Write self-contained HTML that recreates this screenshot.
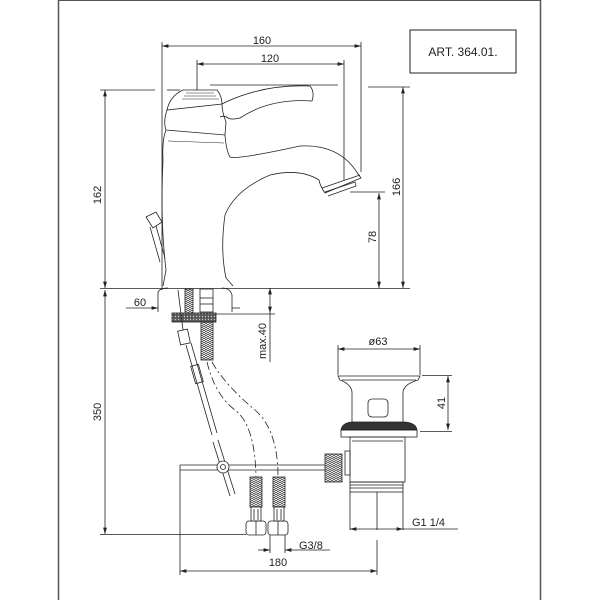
<!DOCTYPE html>
<html><head><meta charset="utf-8"><style>
html,body{margin:0;padding:0;background:#fff}
svg{display:block}
text{font-family:"Liberation Sans",sans-serif;font-size:11px;fill:#222}
</style></head><body>
<svg width="600" height="600" viewBox="0 0 600 600" xmlns="http://www.w3.org/2000/svg">
<defs>
<marker id="a" viewBox="0 0 10 6" refX="10" refY="3" markerWidth="8" markerHeight="5" orient="auto-start-reverse"><path d="M0,0 L10,3 L0,6 z" fill="#222"/></marker>
<pattern id="br" width="4" height="4" patternUnits="userSpaceOnUse"><path d="M0,0 L2,2 L4,0 M0,2 L2,4 L4,2" stroke="#333" stroke-width="0.7" fill="none"/></pattern>
<pattern id="ht" width="3" height="3" patternUnits="userSpaceOnUse"><rect width="3" height="3" fill="#555"/><circle cx="1.5" cy="1.5" r="0.7" fill="#ccc"/></pattern>
</defs>
<g stroke="#222" fill="none" stroke-width="1">
<!-- frame -->
<line x1="58.5" y1="0" x2="58.5" y2="600" stroke="#555" stroke-width="1.5"/>
<line x1="540.5" y1="0" x2="540.5" y2="600" stroke="#555" stroke-width="1.5"/>
<line x1="58" y1="0.5" x2="541" y2="0.5" stroke="#555"/>
<rect x="410" y="30" width="106" height="43"/>
</g>
<text x="463" y="56" text-anchor="middle" style="font-size:12px">ART.  364.01.</text>

<g stroke="#222" fill="none" stroke-width="0.8">
<!-- dims top -->
<line x1="162" y1="46" x2="361" y2="46" marker-start="url(#a)" marker-end="url(#a)"/>
<line x1="162" y1="42" x2="162" y2="290"/>
<line x1="361" y1="42" x2="361" y2="172"/>
<line x1="197" y1="64" x2="344" y2="64" marker-start="url(#a)" marker-end="url(#a)"/>
<line x1="197" y1="60" x2="197" y2="90"/>
<line x1="344" y1="60" x2="344" y2="180"/>
<line x1="105" y1="90" x2="105" y2="288" marker-start="url(#a)" marker-end="url(#a)"/>
<line x1="100" y1="90" x2="155" y2="90"/>
<line x1="167" y1="90" x2="180" y2="90"/>
<line x1="210" y1="85" x2="338" y2="85"/>
<line x1="403" y1="87" x2="403" y2="288" marker-start="url(#a)" marker-end="url(#a)"/>
<line x1="368" y1="87" x2="410" y2="87"/>
<line x1="379" y1="193" x2="379" y2="288" marker-start="url(#a)" marker-end="url(#a)"/>
<line x1="350" y1="192" x2="385" y2="192"/>
<line x1="100" y1="288.5" x2="410" y2="288.5"/>

<!-- faucet -->
<path d="M183,90 L217,90 Q222,96 222,104 L167,110 Q170,96 183,90 Z"/>
<path d="M186,93 L214,93 M184,96 L216,96 M182,99 L219,99" stroke-width="0.5"/>
<path d="M167,110 Q163,122 166,130 L225,135 L226,122 Q222,112 222,104"/>
<path d="M222,104 L226,102 Q265,84 310,86 Q315,92 312,101 Q270,98 240,118 Q231,120 228,118 Q224,115 220,117"/>
<path d="M225,135 Q226,150 230,157 Q236,160 300,146 Q340,144 358,174 L361,178 L325,193 Q320,186 319,180 Q300,168 270,175 Q235,190 225,215 Q220,250 226,278 L233,286"/>
<path d="M322,188 L360,175 M325,192 L355,182 L356,186 L328,196" stroke-width="0.7"/>
<path d="M166,130 Q162,140 163,160 Q160,220 166,270 L163,286"/>
<path d="M168,141 L224,143" stroke-width="0.6"/>
<!-- small lever -->
<path d="M146,217 L156,212 L162,222 L153,228 Z"/>
<path d="M150,227 L160,262 M156,226 L165,258"/>
<!-- base -->
<path d="M158,312 L158,292 Q160,288 168,288 M232,312 L232,295 Q230,288 222,288"/>
<line x1="126" y1="308" x2="158" y2="308" marker-end="url(#a)"/>
<line x1="232" y1="308" x2="240" y2="308"/>
<line x1="270" y1="288" x2="270" y2="313" marker-start="url(#a)" marker-end="url(#a)"/>
<line x1="216" y1="314" x2="275" y2="314"/>
<line x1="270" y1="313" x2="270" y2="362"/>
<rect x="172" y="313" width="44" height="9" fill="url(#ht)"/>
<rect x="185" y="289" width="8" height="24" fill="url(#br)"/>
<rect x="200" y="289" width="13" height="23"/>
<line x1="200" y1="298" x2="213" y2="298"/><line x1="200" y1="304" x2="213" y2="304"/>
<rect x="201" y="322" width="12" height="38" fill="url(#br)"/>
<!-- rod -->
<path d="M178,290 L183,330"/>
<rect x="179" y="330" width="10" height="14" transform="rotate(-12 184 337)"/>
<path d="M186,345 L212,435 M191,343 L217,433"/>
<rect x="193" y="365" width="8" height="18" transform="rotate(-16 197 374)"/>
<path d="M213,442 L230,496 M218,440 L235,494"/>
<line x1="180" y1="465" x2="325" y2="465"/>
<line x1="180" y1="470" x2="325" y2="470"/>
<line x1="180" y1="465" x2="180" y2="575"/>
<circle cx="223" cy="467" r="6" fill="#fff"/><circle cx="223" cy="467" r="2.5"/>
<!-- dashed hoses -->
<path d="M207,362 Q215,395 235,410 Q255,425 256,477" stroke-dasharray="8,3,2,3"/>
<path d="M212,362 Q225,385 255,410 Q278,430 278,477" stroke-dasharray="8,3,2,3"/>
<rect x="250" y="477" width="12" height="30" fill="url(#br)"/>
<rect x="273" y="477" width="12" height="30" fill="url(#br)"/>
<rect x="251" y="507" width="10" height="14"/><rect x="274" y="507" width="10" height="14"/>
<line x1="254" y1="509" x2="254" y2="520"/><line x1="258" y1="509" x2="258" y2="520"/>
<line x1="277" y1="509" x2="277" y2="520"/><line x1="281" y1="509" x2="281" y2="520"/>
<rect x="246" y="521" width="20" height="14" rx="3"/><rect x="268" y="521" width="20" height="14" rx="3"/>
<line x1="256" y1="521" x2="256" y2="535"/><line x1="278" y1="521" x2="278" y2="535"/>
<!-- 350 -->
<line x1="105" y1="290" x2="105" y2="534" marker-start="url(#a)" marker-end="url(#a)"/>
<line x1="100" y1="534.5" x2="246" y2="534.5"/>
<line x1="270" y1="535" x2="270" y2="553"/><line x1="285" y1="535" x2="285" y2="553"/>
<line x1="258" y1="550" x2="270" y2="550" marker-end="url(#a)"/>
<line x1="285" y1="550" x2="330" y2="550" marker-start="url(#a)"/>
<line x1="180" y1="571" x2="377" y2="571" marker-start="url(#a)" marker-end="url(#a)"/>
<line x1="377" y1="540" x2="377" y2="575"/>
<!-- drain -->
<line x1="338" y1="349" x2="420" y2="349" marker-start="url(#a)" marker-end="url(#a)"/>
<line x1="338" y1="345" x2="338" y2="375"/><line x1="420" y1="345" x2="420" y2="375"/>
<path d="M338,376 L420,376 L418,380 Q404,384 403,392 L403,424 L352,424 L352,392 Q351,384 340,380 Z"/>
<line x1="342" y1="380" x2="416" y2="380"/>
<rect x="368" y="399" width="20" height="18" rx="4"/>
<path d="M341,430 Q342,423 352,422 L405,422 Q416,423 417,430 Z" fill="#333"/>
<rect x="341" y="430" width="76" height="7"/>
<rect x="350" y="437" width="55" height="45"/>
<line x1="352" y1="441" x2="403" y2="441"/>
<rect x="345" y="451" width="5" height="24"/>
<rect x="325" y="454" width="17" height="28" fill="url(#br)"/>
<rect x="350" y="482" width="53" height="10"/>
<line x1="350" y1="485" x2="403" y2="485"/><line x1="350" y1="488" x2="403" y2="488"/>
<line x1="350" y1="492" x2="350" y2="530"/><line x1="403" y1="492" x2="403" y2="530"/>
<line x1="377" y1="492" x2="377" y2="530"/>
<line x1="448" y1="376" x2="448" y2="430" marker-start="url(#a)" marker-end="url(#a)"/>
<line x1="422" y1="375.5" x2="452" y2="375.5"/><line x1="420" y1="431.5" x2="452" y2="431.5"/>
<line x1="350" y1="529" x2="403" y2="529" marker-start="url(#a)" marker-end="url(#a)"/>
<line x1="403" y1="529" x2="458" y2="529"/>
</g>
<g>
<text x="262" y="44" text-anchor="middle">160</text>
<text x="270" y="62" text-anchor="middle">120</text>
<text x="140" y="306" text-anchor="middle">60</text>
<text x="378" y="345" text-anchor="middle">ø63</text>
<text x="278" y="566" text-anchor="middle">180</text>
<text x="299" y="549">G3/8</text>
<text x="412" y="526">G1  1/4</text>
<text transform="translate(101,195) rotate(-90)" text-anchor="middle">162</text>
<text transform="translate(400,187) rotate(-90)" text-anchor="middle">166</text>
<text transform="translate(376,237) rotate(-90)" text-anchor="middle">78</text>
<text transform="translate(101,412) rotate(-90)" text-anchor="middle">350</text>
<text transform="translate(266,341) rotate(-90)" text-anchor="middle">max.40</text>
<text transform="translate(445,403) rotate(-90)" text-anchor="middle">41</text>
</g>
</svg>
</body></html>
